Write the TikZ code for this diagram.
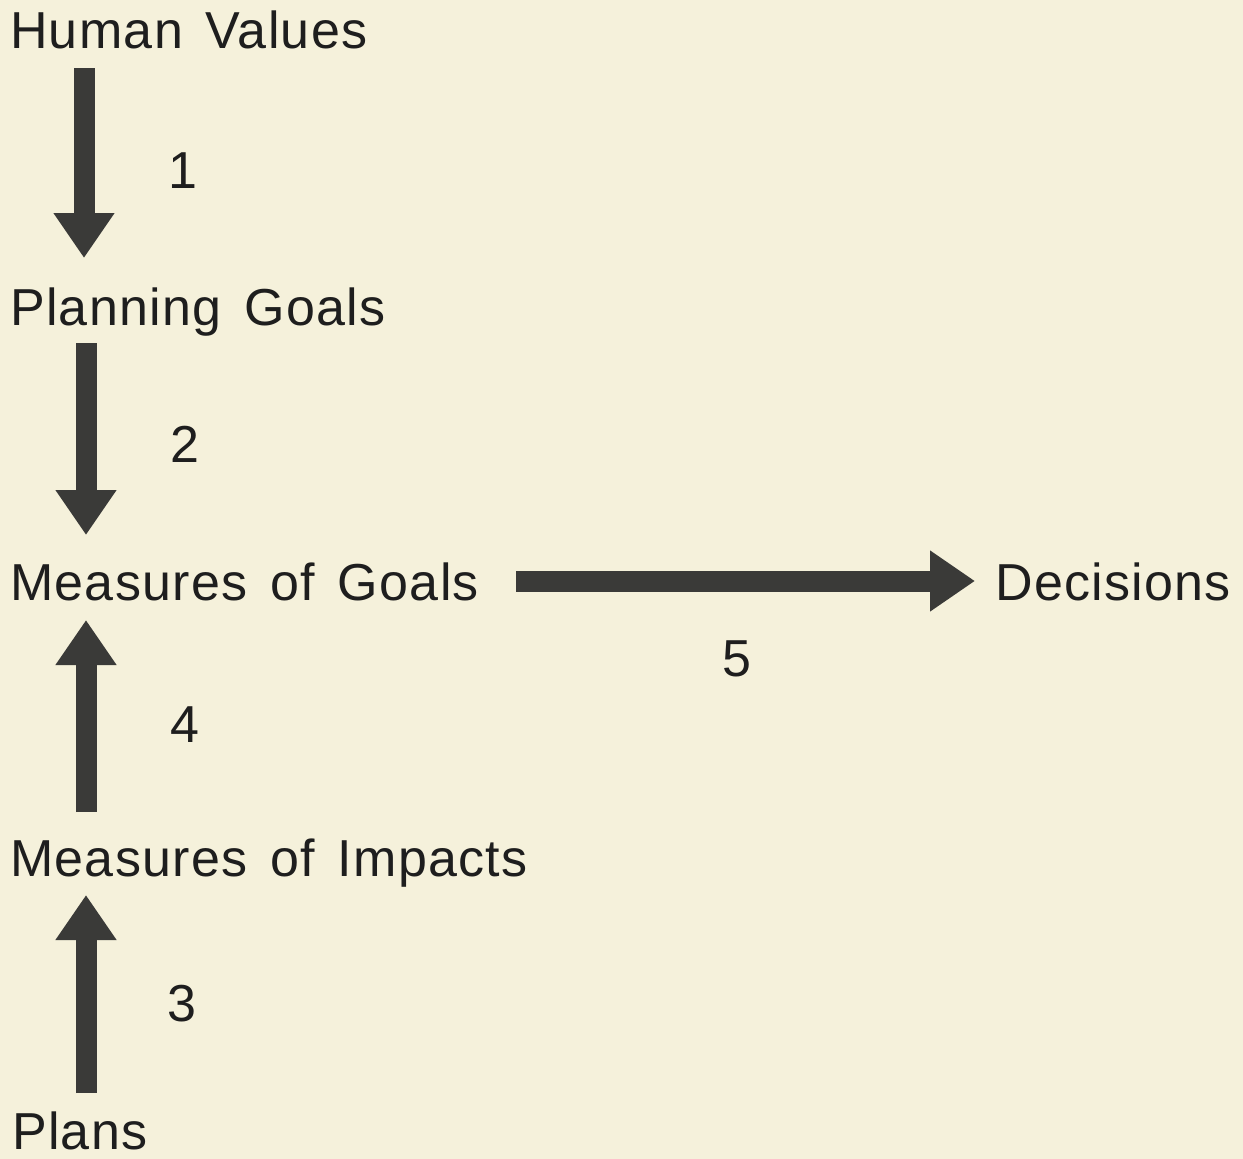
\documentclass[tikz,border=0pt]{standalone}
\usepackage{fontspec}
\setmainfont{Liberation Sans}[LetterSpace=2.5,WordSpace=1.45]
\usetikzlibrary{arrows.meta}
\definecolor{paper}{RGB}{245,241,219}
\definecolor{ink}{RGB}{30,30,30}
\definecolor{arrowgray}{RGB}{58,58,56}
\tikzset{
  lbl/.style={anchor=base west, inner sep=0pt, text=ink, font=\fontsize{52}{60}\selectfont},
  num/.style={anchor=base, inner sep=0pt, text=ink, font=\fontsize{52}{60}\selectfont},
  bigarrow/.style={draw=arrowgray, line width=21pt, -{Triangle[width=58pt,length=45pt]}}
}
\begin{document}
\begin{tikzpicture}[x=1pt,y=-1pt]
\fill[paper] (0,0) rectangle (1243,1159);
\useasboundingbox (0,0) rectangle (1243,1159);
% text nodes
\node[lbl] (hv) at (10,48) {Human Values};
\node[lbl] (pg) at (10,325) {Planning Goals};
\node[lbl] (mg) at (10,600) {Measures of Goals};
\node[lbl] (dec) at (995,600) {Decisions};
\node[lbl] (mi) at (10,876) {Measures of Impacts};
\node[lbl] (pl) at (12,1149) {Plans};
% numbers
\node[num] (n1) at (183,188) {1};
\node[num] (n2) at (185,462) {2};
\node[num] (n5) at (737,676) {5};
\node[num] (n4) at (185,742) {4};
\node[num] (n3) at (182,1021) {3};
% arrow end points
\coordinate (a1s) at (84,68);
\coordinate (a1e) at (84,258);
\coordinate (a2s) at (86,343);
\coordinate (a2e) at (86,535);
\coordinate (a5s) at (516,581);
\coordinate (a5e) at (975,581);
\coordinate (a4s) at (86,812);
\coordinate (a4e) at (86,620);
\coordinate (a3s) at (86,1093);
\coordinate (a3e) at (86,895);
\draw[bigarrow] (a1s) -- (a1e);
\draw[bigarrow] (a2s) -- (a2e);
\draw[bigarrow] (a5s) -- (a5e);
\draw[bigarrow] (a4s) -- (a4e);
\draw[bigarrow] (a3s) -- (a3e);
\end{tikzpicture}
\end{document}
